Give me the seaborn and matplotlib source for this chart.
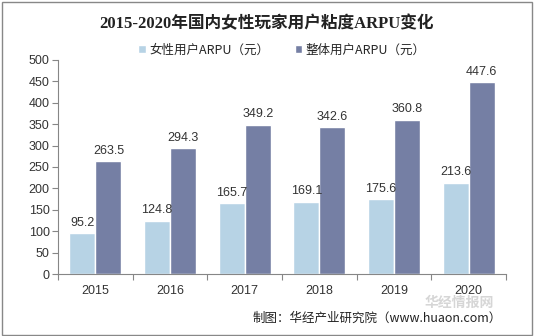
import matplotlib
matplotlib.use("Agg")
import matplotlib.pyplot as plt
import seaborn as sns
import pandas as pd

years = ["2015", "2016", "2017", "2018", "2019", "2020"]
female_arpu = [95.2, 124.8, 165.7, 169.1, 175.6, 213.6]
overall_arpu = [263.5, 294.3, 349.2, 342.6, 360.8, 447.6]
series_names = ["女性用户ARPU（元）", "整体用户ARPU（元）"]
yticks = [0, 50, 100, 150, 200, 250, 300, 350, 400, 450, 500]

sns.set_theme(style="white")
plt.rcParams['font.family'] = ['Liberation Sans', 'Noto Sans CJK SC', 'DejaVu Sans']

df = pd.DataFrame({
    "year": years * 2,
    "value": female_arpu + overall_arpu,
    "series": [series_names[0]] * len(years) + [series_names[1]] * len(years),
})

fig = plt.figure(figsize=(5.34, 3.36), dpi=100)
ax = fig.add_axes([0.1086, 0.1845, 0.839, 0.637])
palette = ["#B7D3E5", "#757FA4"]
sns.barplot(data=df, x="year", y="value", hue="series", palette=palette,
            ax=ax, width=0.7, saturation=1, legend=True)

ax.set_ylim(0, 500)
ax.set_yticks(yticks)
ax.set_xlim(-0.5, len(years) - 0.5)
ax.set_xlabel("")
ax.set_ylabel("")
for s in ["top", "right"]:
    ax.spines[s].set_visible(False)
for s in ["left", "bottom"]:
    ax.spines[s].set_color("#868686")
    ax.spines[s].set_linewidth(0.8)
ax.tick_params(axis="y", labelsize=9, colors="#333333", length=4, width=0.8,
               direction="out", left=True, color="#868686", pad=2)
ax.tick_params(axis="x", labelsize=9, colors="#333333", length=0, pad=8)
ax.set_xticks([i - 0.5 for i in range(len(years) + 1)], minor=True)
ax.tick_params(axis="x", which="minor", length=4, width=0.8, color="#868686",
               direction="out", bottom=True)

for cont in ax.containers:
    ax.bar_label(cont, fmt="%.1f", padding=3, fontsize=9, color="#333333")

ax.legend(loc="upper center", bbox_to_anchor=(0.5, 1.13), ncol=2,
          frameon=False, fontsize=9, handlelength=0.6, handleheight=0.6,
          handletextpad=0.3, columnspacing=2.0,
          prop={"family": ["Noto Sans CJK SC"], "size": 9})

fig.text(0.5, 0.93, "2015-2020年国内女性玩家用户粘度ARPU变化", ha="center",
         va="center", fontsize=12, fontweight="bold", color="#222222",
         family=["Liberation Serif", "Noto Sans CJK SC"])
fig.text(0.94, 0.052, "制图：华经产业研究院（www.huaon.com）", ha="right",
         va="center", fontsize=9, color="#222222",
         family=["Noto Sans CJK SC", "DejaVu Sans"])
fig.text(0.86, 0.098, "华经情报网", ha="center", va="center", fontsize=10,
         color="#cccccc", fontweight="bold", alpha=0.8,
         family=["Noto Sans CJK SC"])

border = plt.Rectangle((0.004, 0.004), 0.992, 0.99, transform=fig.transFigure,
                       fill=False, edgecolor="#888888", linewidth=1)
fig.add_artist(border)

fig.savefig("out.png", dpi=100)
